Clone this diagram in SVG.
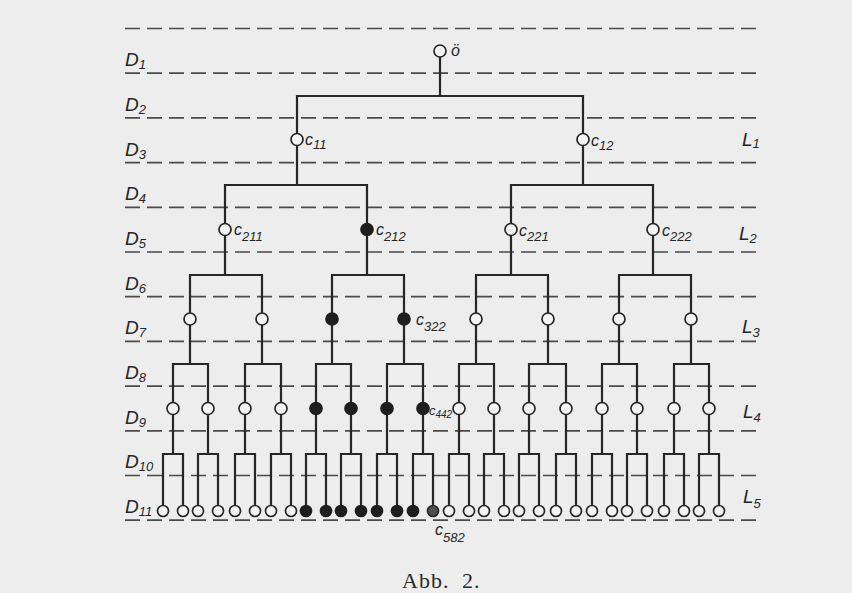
<svg xmlns="http://www.w3.org/2000/svg" width="852" height="593" viewBox="0 0 852 593">
<style>
.bg{fill:#ededed}
.dash{stroke:#4a4a4a;stroke-width:1.7;stroke-dasharray:15 7;fill:none}
.edge{stroke:#262626;stroke-width:2.2;fill:none;stroke-linejoin:miter}
.n{fill:#f4f4f4;stroke:#262626;stroke-width:1.7}
.f{fill:#1e1e1e;stroke:#1e1e1e;stroke-width:1.7}
.g{fill:#505050;stroke:#262626;stroke-width:1.7}
.lab{font-family:"Liberation Sans",Arial,sans-serif;font-style:italic;fill:#262626}
.d{font-size:19px}
.ds{font-size:13px}
.c{font-size:16px}
.cs{font-size:13px}
.cx{font-size:13px}
.cxs{font-size:10px}
.L{font-size:19px}
.Ls{font-size:13px}
.cap{font-family:"Liberation Serif","Times New Roman",serif;font-size:22px;letter-spacing:1px;word-spacing:6px;fill:#2a2a2a}
</style>
<rect class="bg" x="0" y="0" width="852" height="593"/>
<g id="levels">
<path class="dash" d="M125 28.5H762M125 73.2H762M125 117.9H762M125 162.6H762M125 207.3H762M125 252H762M125 296.7H762M125 341.4H762M125 386.1H762M125 430.8H762M125 475.5H762M125 520.2H762"/>
<text class="lab d" x="125" y="66">D<tspan class="ds" dy="3">1</tspan></text>
<text class="lab d" x="125" y="111">D<tspan class="ds" dy="3">2</tspan></text>
<text class="lab d" x="125" y="155.5">D<tspan class="ds" dy="3">3</tspan></text>
<text class="lab d" x="125" y="200">D<tspan class="ds" dy="3">4</tspan></text>
<text class="lab d" x="125" y="245">D<tspan class="ds" dy="3">5</tspan></text>
<text class="lab d" x="125" y="290">D<tspan class="ds" dy="3">6</tspan></text>
<text class="lab d" x="125" y="334">D<tspan class="ds" dy="3">7</tspan></text>
<text class="lab d" x="125" y="379">D<tspan class="ds" dy="3">8</tspan></text>
<text class="lab d" x="125" y="424">D<tspan class="ds" dy="3">9</tspan></text>
<text class="lab d" x="125" y="468">D<tspan class="ds" dy="3">10</tspan></text>
<text class="lab d" x="125" y="513">D<tspan class="ds" dy="3">11</tspan></text>
<text class="lab L" x="742" y="146">L<tspan class="Ls" dy="2">1</tspan></text>
<text class="lab L" x="739" y="240">L<tspan class="Ls" dy="3">2</tspan></text>
<text class="lab L" x="742" y="333">L<tspan class="Ls" dy="4">3</tspan></text>
<text class="lab L" x="743" y="418">L<tspan class="Ls" dy="4">4</tspan></text>
<text class="lab L" x="743" y="503">L<tspan class="Ls" dy="5">5</tspan></text>
</g>
<g id="connectors">
<path class="edge" d="M440 51V96M297 185V96H583V185
M225 275V185H367V275M511 275V185H653V275
M190 364V275H262V364M332 364V275H404V364M476 364V275H548V364M619 364V275H691V364
M173 454V364H208V454M245 454V364H281V454M316 454V364H351V454M387 454V364H423V454
M459 454V364H494V454M529 454V364H566V454M602 454V364H637V454M674 454V364H709V454
M163 511V454H183V511M198 511V454H218V511M235 511V454H255V511M271 511V454H291V511
M306 511V454H326V511M341 511V454H361V511M377 511V454H397V511M413 511V454H433V511
M449 511V454H469V511M484 511V454H504V511M519 511V454H539V511M556 511V454H576V511
M592 511V454H612V511M627 511V454H647V511M664 511V454H684V511M699 511V454H719V511"/>
</g>
<g id="n0"><circle class="n" cx="440" cy="51" r="6"/><text class="lab c" x="451" y="56">ö</text></g>
<g id="c11"><circle class="n" cx="297" cy="139.5" r="6"/><text class="lab c" x="305" y="145">c<tspan class="cs" dy="4">11</tspan></text></g>
<g id="c12"><circle class="n" cx="583" cy="139.5" r="6"/><text class="lab c" x="591" y="146">c<tspan class="cs" dy="4">12</tspan></text></g>
<g id="c211"><circle class="n" cx="225" cy="229.5" r="6"/><text class="lab c" x="234" y="235">c<tspan class="cs" dy="6">211</tspan></text></g>
<g id="c212"><circle class="f" cx="367" cy="229.5" r="6"/><text class="lab c" x="376" y="235">c<tspan class="cs" dy="6">212</tspan></text></g>
<g id="c221"><circle class="n" cx="511" cy="229.5" r="6"/><text class="lab c" x="519" y="236">c<tspan class="cs" dy="5">221</tspan></text></g>
<g id="c222"><circle class="n" cx="653" cy="229.5" r="6"/><text class="lab c" x="662" y="236">c<tspan class="cs" dy="5">222</tspan></text></g>
<g id="c311"><circle class="n" cx="190" cy="319" r="6"/></g>
<g id="c312"><circle class="n" cx="262" cy="319" r="6"/></g>
<g id="c321"><circle class="f" cx="332" cy="319" r="6"/></g>
<g id="c322"><circle class="f" cx="404" cy="319" r="6"/><text class="lab c" x="416" y="325">c<tspan class="cs" dy="6">322</tspan></text></g>
<g id="c331"><circle class="n" cx="476" cy="319" r="6"/></g>
<g id="c332"><circle class="n" cx="548" cy="319" r="6"/></g>
<g id="c341"><circle class="n" cx="619" cy="319" r="6"/></g>
<g id="c342"><circle class="n" cx="691" cy="319" r="6"/></g>
<g id="c411"><circle class="n" cx="173" cy="408.5" r="6"/></g>
<g id="c412"><circle class="n" cx="208" cy="408.5" r="6"/></g>
<g id="c421"><circle class="n" cx="245" cy="408.5" r="6"/></g>
<g id="c422"><circle class="n" cx="281" cy="408.5" r="6"/></g>
<g id="c431"><circle class="f" cx="316" cy="408.5" r="6"/></g>
<g id="c432"><circle class="f" cx="351" cy="408.5" r="6"/></g>
<g id="c441"><circle class="f" cx="387" cy="408.5" r="6"/></g>
<g id="c442"><circle class="f" cx="423" cy="408.5" r="6"/><text class="lab cx" x="429" y="415">c<tspan class="cxs" dy="3">442</tspan></text></g>
<g id="c451"><circle class="n" cx="459" cy="408.5" r="6"/></g>
<g id="c452"><circle class="n" cx="494" cy="408.5" r="6"/></g>
<g id="c461"><circle class="n" cx="529" cy="408.5" r="6"/></g>
<g id="c462"><circle class="n" cx="566" cy="408.5" r="6"/></g>
<g id="c471"><circle class="n" cx="602" cy="408.5" r="6"/></g>
<g id="c472"><circle class="n" cx="637" cy="408.5" r="6"/></g>
<g id="c481"><circle class="n" cx="674" cy="408.5" r="6"/></g>
<g id="c482"><circle class="n" cx="709" cy="408.5" r="6"/></g>
<g id="leaf1"><circle class="n" cx="163" cy="511" r="5.5"/></g>
<g id="leaf2"><circle class="n" cx="183" cy="511" r="5.5"/></g>
<g id="leaf3"><circle class="n" cx="198" cy="511" r="5.5"/></g>
<g id="leaf4"><circle class="n" cx="218" cy="511" r="5.5"/></g>
<g id="leaf5"><circle class="n" cx="235" cy="511" r="5.5"/></g>
<g id="leaf6"><circle class="n" cx="255" cy="511" r="5.5"/></g>
<g id="leaf7"><circle class="n" cx="271" cy="511" r="5.5"/></g>
<g id="leaf8"><circle class="n" cx="291" cy="511" r="5.5"/></g>
<g id="leaf9"><circle class="f" cx="306" cy="511" r="5.5"/></g>
<g id="leaf10"><circle class="f" cx="326" cy="511" r="5.5"/></g>
<g id="leaf11"><circle class="f" cx="341" cy="511" r="5.5"/></g>
<g id="leaf12"><circle class="f" cx="361" cy="511" r="5.5"/></g>
<g id="leaf13"><circle class="f" cx="377" cy="511" r="5.5"/></g>
<g id="leaf14"><circle class="f" cx="397" cy="511" r="5.5"/></g>
<g id="leaf15"><circle class="f" cx="413" cy="511" r="5.5"/></g>
<g id="c582"><circle class="g" cx="433" cy="511" r="5.5"/><text class="lab c" x="435" y="535">c<tspan class="cs" dy="7">582</tspan></text></g>
<g id="leaf17"><circle class="n" cx="449" cy="511" r="5.5"/></g>
<g id="leaf18"><circle class="n" cx="469" cy="511" r="5.5"/></g>
<g id="leaf19"><circle class="n" cx="484" cy="511" r="5.5"/></g>
<g id="leaf20"><circle class="n" cx="504" cy="511" r="5.5"/></g>
<g id="leaf21"><circle class="n" cx="519" cy="511" r="5.5"/></g>
<g id="leaf22"><circle class="n" cx="539" cy="511" r="5.5"/></g>
<g id="leaf23"><circle class="n" cx="556" cy="511" r="5.5"/></g>
<g id="leaf24"><circle class="n" cx="576" cy="511" r="5.5"/></g>
<g id="leaf25"><circle class="n" cx="592" cy="511" r="5.5"/></g>
<g id="leaf26"><circle class="n" cx="612" cy="511" r="5.5"/></g>
<g id="leaf27"><circle class="n" cx="627" cy="511" r="5.5"/></g>
<g id="leaf28"><circle class="n" cx="647" cy="511" r="5.5"/></g>
<g id="leaf29"><circle class="n" cx="664" cy="511" r="5.5"/></g>
<g id="leaf30"><circle class="n" cx="684" cy="511" r="5.5"/></g>
<g id="leaf31"><circle class="n" cx="699" cy="511" r="5.5"/></g>
<g id="leaf32"><circle class="n" cx="719" cy="511" r="5.5"/></g>
<text class="cap" x="402" y="588">Abb. 2.</text>
</svg>
